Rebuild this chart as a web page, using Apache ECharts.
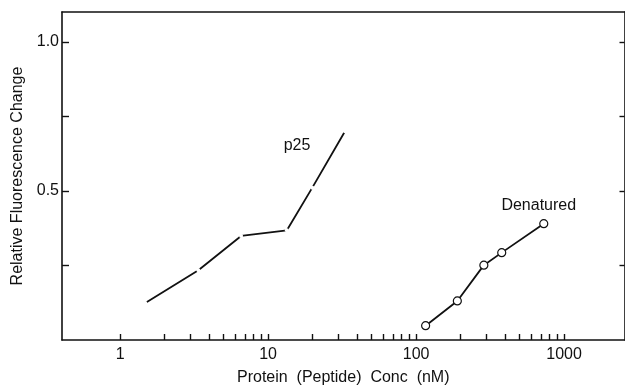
<!DOCTYPE html>
<html>
<head>
<meta charset="utf-8">
<script src="https://cdn.jsdelivr.net/npm/echarts@6/dist/echarts.min.js"></script>
<style>
  html, body { margin: 0; padding: 0; background: #fff; }
  #chart { width: 625px; height: 386px; }
</style>
</head>
<body>
<div id="chart"></div>
<script>
// p25 curve (nM, relative change)
var p25Conc = [1.48, 3.38, 6.57, 13.4, 19.9, 33.1];
var p25Val = [0.124, 0.234, 0.349, 0.368, 0.511, 0.700];
// denatured protein curve
var denConc = [116, 190, 287, 379, 729];
var denVal = [0.048, 0.131, 0.251, 0.293, 0.390];

// axis ticks / labels
var xTickVals = [1, 2, 3, 4, 5, 6, 7, 8, 9,
                 10, 20, 30, 40, 50, 60, 70, 80, 90,
                 100, 200, 300, 400, 500, 600, 700, 800, 900, 1000];
var xLabelVals = [1, 10, 100, 1000];
var yTickVals = [0.25, 0.5, 0.75, 1.0];
var yLabelVals = [0.5, 1.0];

var FONT = 'Liberation Sans';
var INK = '#111';

function pairs(xs, ys) {
  var out = [];
  for (var i = 0; i < xs.length; i++) {
    out.push({ value: [xs[i], ys[i]] });
  }
  return out;
}

var p25Data = pairs(p25Conc, p25Val);
p25Data[p25Data.length - 1].label = {
  show: true, formatter: 'p25', position: 'top', offset: [-48, 29],
  fontFamily: FONT, fontSize: 16, color: INK
};
var denData = pairs(denConc, denVal);
denData[denData.length - 1].label = {
  show: true, formatter: 'Denatured', position: 'top', offset: [-5, -1],
  fontFamily: FONT, fontSize: 16, color: INK
};

var chart = echarts.init(document.getElementById('chart'));
var option = {
  animation: false,
  backgroundColor: '#fff',
  grid: { left: 62, top: 12, right: 0.5, bottom: 46, containLabel: false, outerBoundsMode: 'none' },
  xAxis: [{
    type: 'log',
    min: 0.405,
    max: 2560,
    name: 'Protein  (Peptide)  Conc  (nM)',
    nameLocation: 'middle',
    nameGap: 30,
    nameTextStyle: { fontFamily: FONT, fontSize: 16, color: INK },
    axisLine: { lineStyle: { color: INK, width: 1.6 } },
    axisTick: { inside: true, length: 6, customValues: xTickVals, lineStyle: { color: INK, width: 1.4 } },
    axisLabel: {
      customValues: xLabelVals, margin: 7,
      fontFamily: FONT, fontSize: 16, color: INK,
      formatter: function (v) { return String(Math.round(v)); }
    },
    splitLine: { show: false },
    minorTick: { show: false }
  }, {
    type: 'value', position: 'top', min: 0, max: 1,
    axisLine: { show: true, onZero: false, lineStyle: { color: INK, width: 1.6 } },
    axisTick: { show: false }, axisLabel: { show: false }, splitLine: { show: false }
  }],
  yAxis: [{
    type: 'value',
    min: 0,
    max: 1.1,
    name: 'Relative Fluorescence Change',
    nameLocation: 'middle',
    nameGap: 34,
    nameTextStyle: { fontFamily: FONT, fontSize: 16, color: INK },
    axisLine: { show: true, onZero: false, lineStyle: { color: INK, width: 1.6 } },
    axisTick: { inside: true, length: 7, customValues: yTickVals, lineStyle: { color: INK, width: 1.4 } },
    axisLabel: {
      customValues: yLabelVals, margin: 3,
      fontFamily: FONT, fontSize: 16, color: INK,
      formatter: function (v) { return v.toFixed(1); }
    },
    splitLine: { show: false }
  }, {
    type: 'value', position: 'right', min: 0, max: 1.1,
    axisLine: { show: true, onZero: false, lineStyle: { color: INK, width: 1.6 } },
    axisTick: { inside: true, length: 5, customValues: yTickVals, lineStyle: { color: INK, width: 1.4 } },
    axisLabel: { show: false }, splitLine: { show: false }
  }],
  series: [{
    name: 'p25',
    type: 'line',
    data: p25Data,
    symbol: 'circle',
    symbolSize: 4,
    showAllSymbol: true,
    itemStyle: { color: '#fff', borderWidth: 0 },
    lineStyle: { color: INK, width: 1.8 },
    emphasis: { disabled: true }
  }, {
    name: 'Denatured',
    type: 'line',
    data: denData,
    symbol: 'circle',
    symbolSize: 8,
    showAllSymbol: true,
    itemStyle: { color: '#fff', borderColor: INK, borderWidth: 1.2 },
    lineStyle: { color: INK, width: 1.8 },
    emphasis: { disabled: true }
  }]
};
chart.setOption(option);
</script>
</body>
</html>
